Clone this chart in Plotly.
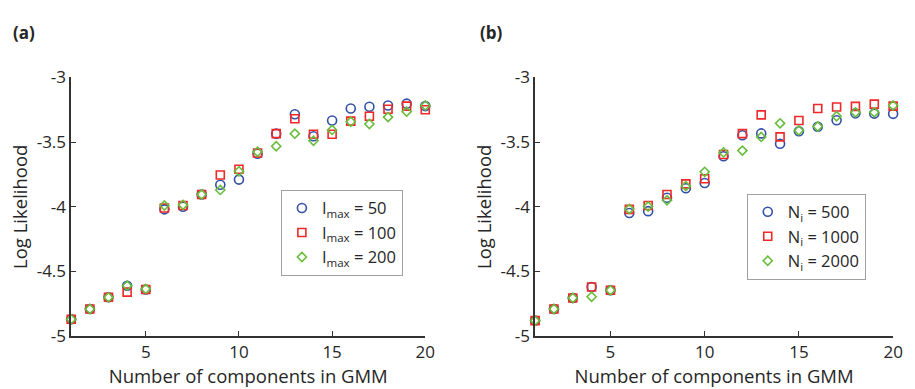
import plotly.graph_objects as go

components = list(range(1, 21))

# Panel (a): varying I_max
a_imax50 = [-4.87, -4.79, -4.70, -4.61, -4.64, -4.02, -4.00, -3.905, -3.83, -3.79,
            -3.59, -3.435, -3.285, -3.455, -3.333, -3.24, -3.227, -3.217, -3.203, -3.222]
a_imax100 = [-4.87, -4.79, -4.70, -4.66, -4.64, -4.01, -3.99, -3.905, -3.755, -3.71,
             -3.585, -3.435, -3.32, -3.44, -3.44, -3.338, -3.30, -3.246, -3.222, -3.25]
a_imax200 = [-4.87, -4.79, -4.70, -4.61, -4.635, -3.99, -3.985, -3.905, -3.87, -3.726,
             -3.575, -3.532, -3.435, -3.49, -3.406, -3.343, -3.36, -3.307, -3.265, -3.217]

# Panel (b): varying N_i
b_n500 = [-4.88, -4.79, -4.705, -4.62, -4.645, -4.048, -4.034, -3.93, -3.857, -3.816,
          -3.61, -3.447, -3.433, -3.513, -3.416, -3.382, -3.331, -3.278, -3.28, -3.282]
b_n1000 = [-4.88, -4.79, -4.705, -4.62, -4.645, -4.02, -3.99, -3.905, -3.823, -3.784,
           -3.596, -3.435, -3.29, -3.46, -3.333, -3.24, -3.229, -3.224, -3.207, -3.222]
b_n2000 = [-4.88, -4.79, -4.705, -4.696, -4.645, -4.017, -3.998, -3.95, -3.84, -3.73,
           -3.58, -3.566, -3.46, -3.355, -3.41, -3.38, -3.30, -3.27, -3.27, -3.217]

names_a = ["I<sub>max</sub> = 50", "I<sub>max</sub> = 100", "I<sub>max</sub> = 200"]
names_b = ["N<sub>i</sub> = 500", "N<sub>i</sub> = 1000", "N<sub>i</sub> = 2000"]

x_ticks = [5, 10, 15, 20]
y_ticks = [-5, -4.5, -4, -3.5, -3]
y_ticktext = ["-5", "-4.5", "-4", "-3.5", "-3"]

BLUE = "#3350a8"
RED = "#f02828"
GREEN = "#68bd3c"
symbols = ["circle-open", "square-open", "diamond-open"]
colors = [BLUE, RED, GREEN]
sizes = [9, 8, 7]
FONT = "Open Sans"
AX = "#333333"
TXT = "#262626"

fig = go.Figure()

for ys, nm, sym, col, sz in zip([a_imax50, a_imax100, a_imax200], names_a, symbols, colors, sizes):
    fig.add_trace(go.Scatter(x=components, y=ys, mode="markers", name=nm,
                             marker=dict(symbol=sym, color=col, size=sz, line=dict(width=1.6, color=col)),
                             xaxis="x", yaxis="y", legend="legend", cliponaxis=False))
for ys, nm, sym, col, sz in zip([b_n500, b_n1000, b_n2000], names_b, symbols, colors, sizes):
    fig.add_trace(go.Scatter(x=components, y=ys, mode="markers", name=nm,
                             marker=dict(symbol=sym, color=col, size=sz, line=dict(width=1.6, color=col)),
                             xaxis="x2", yaxis="y2", legend="legend2", cliponaxis=False))

xcommon = dict(range=[1, 20], tickvals=x_ticks, ticks="inside", ticklen=5, tickwidth=1.2,
               tickcolor=AX, showline=True, linecolor=AX, linewidth=1.5, showgrid=False,
               zeroline=False, tickfont=dict(family=FONT, size=17, color=TXT),
               title=dict(text="Number of components in GMM", font=dict(family=FONT, size=18.5, color=TXT),
                          standoff=1))
ycommon = dict(range=[-5, -3], tickvals=y_ticks, ticktext=y_ticktext, ticks="inside", ticklen=5,
               tickwidth=1.2, tickcolor=AX, showline=True, linecolor=AX, linewidth=1.5,
               showgrid=False, zeroline=False, tickfont=dict(family=FONT, size=17, color=TXT),
               title=dict(text="Log Likelihood", font=dict(family=FONT, size=18.5, color=TXT), standoff=4))

legcommon = dict(bgcolor="white", bordercolor="#a0a0a0", borderwidth=1,
                 font=dict(family=FONT, size=16.5, color=TXT), xanchor="left", yanchor="top",
                 tracegroupgap=0, itemwidth=30)

fig.update_layout(
    width=915, height=389, margin=dict(l=0, r=0, t=0, b=0),
    paper_bgcolor="white", plot_bgcolor="white", showlegend=True,
    xaxis=dict(domain=[72 / 915, 430 / 915], anchor="y", **xcommon),
    yaxis=dict(domain=[1 - 344.5 / 389, 1 - 69.5 / 389], anchor="x", **ycommon),
    xaxis2=dict(domain=[541 / 915, 903 / 915], anchor="y2", **xcommon),
    yaxis2=dict(domain=[1 - 344.5 / 389, 1 - 69.5 / 389], anchor="x2", **ycommon),
    legend=dict(x=284 / 915, y=1 - 189 / 389, **legcommon),
    legend2=dict(x=755 / 915, y=1 - 193 / 389, **legcommon),
    annotations=[
        dict(text="<b>(a)</b>", x=11 / 915, y=1 - 22 / 389, xref="paper", yref="paper",
             xanchor="left", yanchor="middle", showarrow=False,
             font=dict(family=FONT, size=17, color=TXT)),
        dict(text="<b>(b)</b>", x=483 / 915, y=1 - 22 / 389, xref="paper", yref="paper",
             xanchor="left", yanchor="middle", showarrow=False,
             font=dict(family=FONT, size=17, color=TXT)),
    ],
)

fig.write_html("out.html")
